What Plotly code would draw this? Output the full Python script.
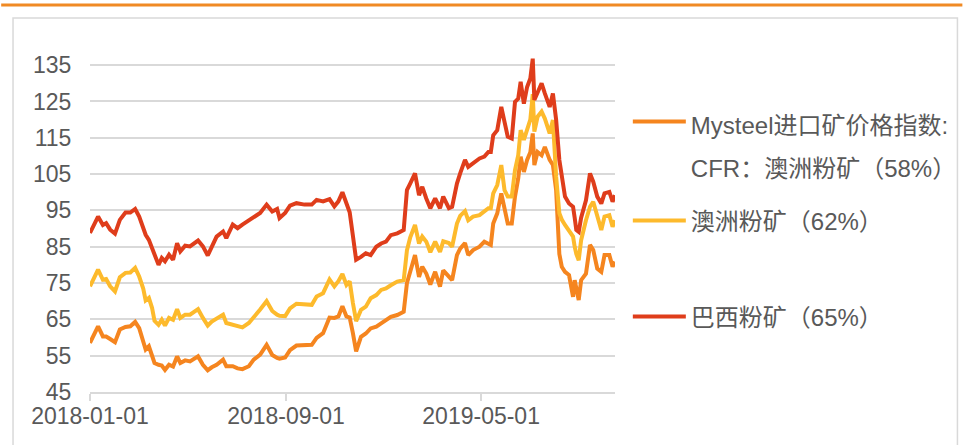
import plotly.graph_objects as go
import pandas as pd

# ---- data ----
start_date = "2018-01-01"
day_offsets = [0, 10, 16, 20, 25, 31, 37, 44, 50, 56, 61, 66, 69, 73, 77, 80, 85, 89, 93, 98,
               103, 108, 112, 118, 124, 134, 140, 146, 151, 157, 165, 169, 177, 183, 189, 197,
               203, 211, 219, 226, 232, 235, 242, 248, 256, 266, 275, 281, 289, 297, 303, 308,
               313, 318, 322, 326, 330, 336, 342, 348, 355, 361, 367, 373, 381, 389, 393, 397,
               403, 408, 412, 417, 422, 428, 434, 438, 445, 449, 455, 459, 465, 469, 475, 483,
               489, 494, 497, 500, 505, 510, 514, 518, 523, 527, 531, 534, 538, 542, 546, 549,
               551, 555, 560, 564, 570, 574, 578, 582, 585, 589, 594, 599, 601, 603, 606, 609,
               615, 620, 624, 629, 634, 638, 644, 648, 651]

mysteel_58 = [58.5, 63.1, 60.3, 60.3, 59.6, 58.7, 62.2, 62.9, 63.1, 64.3, 62.6, 59.4, 56.7, 57.6,
              54.8, 53.0, 52.5, 52.3, 51.1, 52.5, 52.0, 54.8, 53.0, 53.7, 53.4, 54.8, 52.5, 51.0,
              51.8, 52.5, 53.9, 52.1, 52.1, 51.5, 51.3, 52.1, 53.9, 55.3, 58.0, 55.2, 54.4, 54.2,
              54.5, 56.5, 57.8, 58.0, 58.0, 59.9, 61.2, 65.5, 65.4, 65.8, 68.6, 65.8, 65.5, 61.2,
              56.2, 60.2, 61.1, 62.5, 63.0, 63.9, 64.8, 65.7, 66.2, 67.1, 75.0, 78.5, 82.7, 76.7,
              79.5, 77.6, 74.6, 78.1, 74.0, 78.5, 76.5, 75.8, 82.7, 84.5, 86.0, 82.7, 84.1, 85.0,
              86.4, 86.0, 85.5, 91.4, 94.2, 99.7, 95.1, 91.4, 91.4, 98.8, 103.8, 109.8, 105.6,
              108.9, 111.0, 116.2, 107.5, 111.1, 110.2, 112.5, 108.9, 107.5, 100.6, 83.0, 79.5,
              78.1, 77.2, 71.2, 75.8, 73.0, 70.3, 75.8, 77.6, 85.5, 84.1, 79.0, 78.1, 82.7, 82.7,
              79.5, 80.9]

aus_62 = [74.1, 78.7, 75.9, 76.1, 74.1, 72.7, 76.6, 77.8, 77.9, 79.2, 76.8, 73.5, 70.2, 70.9,
          68.1, 64.6, 63.5, 64.9, 63.3, 65.4, 64.9, 67.8, 65.4, 66.3, 66.3, 67.8, 65.4, 63.3,
          64.4, 65.2, 66.3, 64.0, 63.5, 63.2, 62.8, 64.0, 65.5, 67.7, 70.0, 67.3, 66.3, 66.0,
          65.9, 68.0, 69.3, 69.2, 69.0, 71.3, 72.2, 76.0, 74.1, 75.5, 77.5, 74.5, 75.5, 69.5,
          64.5, 67.6, 68.5, 70.8, 71.7, 73.1, 73.5, 74.4, 75.4, 75.8, 84.0, 87.5, 91.0, 85.9,
          87.8, 86.4, 83.5, 86.4, 83.6, 86.5, 86.0, 85.0, 91.4, 93.5, 94.8, 92.3, 93.3, 93.7,
          94.6, 95.6, 95.6, 99.7, 102.0, 107.5, 100.6, 98.8, 98.8, 106.1, 110.2, 117.1, 114.4,
          117.1, 120.0, 127.0, 116.7, 120.8, 122.2, 120.3, 116.2, 119.9, 104.3, 94.2, 92.5,
          91.0, 89.6, 87.8, 85.0, 83.0, 81.3, 86.8, 92.3, 96.0, 97.4, 93.3, 89.6, 93.3, 93.7,
          90.5, 92.3]

brazil_65 = [88.8, 93.3, 91.0, 91.5, 89.7, 88.6, 92.4, 94.4, 94.4, 95.4, 93.3, 90.6, 88.3, 86.9,
             84.6, 82.3, 80.0, 81.9, 81.0, 82.8, 81.4, 86.0, 83.7, 85.3, 85.1, 86.7, 85.1, 82.6,
             85.1, 87.8, 89.2, 87.4, 91.1, 90.1, 91.1, 92.2, 93.3, 94.3, 96.6, 94.7, 95.4, 92.9,
             94.3, 96.3, 97.0, 96.6, 96.6, 97.9, 97.5, 98.1, 96.1, 97.5, 100.0, 97.0, 94.5, 88.0,
             81.4, 82.2, 83.2, 82.7, 85.0, 85.9, 86.4, 88.2, 88.7, 89.6, 100.6, 102.4, 105.2,
             99.2, 101.5, 98.3, 95.6, 98.3, 95.6, 98.8, 95.6, 96.0, 102.4, 105.2, 108.9, 107.0,
             107.9, 109.3, 109.8, 111.1, 111.1, 115.7, 117.1, 123.5, 119.4, 115.3, 114.8, 124.9,
             125.8, 130.4, 124.4, 129.0, 131.3, 136.8, 125.4, 127.2, 130.0, 127.2, 123.5, 127.2,
             120.0, 108.9, 104.3, 98.8, 96.9, 96.0, 93.0, 89.6, 89.1, 93.0, 97.8, 105.2, 102.9,
             98.8, 96.9, 99.7, 100.1, 97.4, 99.2]

series_names = [
    '<span style="font-size:24px">Mysteel进口矿价格指数:</span><br>'
    '<span style="font-size:24px">CFR：澳洲粉矿（58%）</span>',
    "澳洲粉矿（62%）",
    "巴西粉矿（65%）",
]
x_tick_labels = ["2018-01-01", "2018-09-01", "2019-05-01"]
y_tick_values = [45, 55, 65, 75, 85, 95, 105, 115, 125, 135]
x_end = "2019-10-14"

dates = (pd.Timestamp(start_date) + pd.to_timedelta(day_offsets, unit="D")).strftime("%Y-%m-%d").tolist()

# ---- styling ----
colors = ["#F5851F", "#FDBA2C", "#DF3D1B"]
text_color = "#595959"
grid_color = "#D9D9D9"
font_family = "Liberation Sans, Arial, Noto Sans CJK SC, sans-serif"

W, H = 974, 445
L, R, T, B = 90, 352, 47, 53
plot_w, plot_h = W - L - R, H - T - B


def px_x(px):
    return (px - L) / plot_w


def px_y(py):
    return (H - B - py) / plot_h


fig = go.Figure()
legend_ids = ["legend", "legend2", "legend3"]
for name, vals, col, lid in zip(series_names, [mysteel_58, aus_62, brazil_65], colors, legend_ids):
    fig.add_trace(go.Scatter(x=dates, y=vals, mode="lines", name=name,
                             line=dict(color=col, width=4), legend=lid,
                             hoverinfo="x+y"))

legend_common = dict(bgcolor="rgba(0,0,0,0)", borderwidth=0, xanchor="left", yanchor="middle",
                     itemwidth=53, valign="top", x=px_x(635))
fig.update_layout(
    width=W, height=H,
    margin=dict(l=L, r=R, t=T, b=B, pad=0),
    paper_bgcolor="white", plot_bgcolor="white",
    font=dict(family=font_family, color=text_color, size=23),
    showlegend=True,
    legend=dict(**legend_common, y=px_y(143), font=dict(size=33, color=text_color, family=font_family)),
    legend2=dict(**legend_common, y=px_y(221), font=dict(size=24, color=text_color, family=font_family)),
    legend3=dict(**legend_common, y=px_y(317), font=dict(size=24, color=text_color, family=font_family)),
    xaxis=dict(
        type="date", range=[start_date, x_end],
        tickvals=x_tick_labels, ticktext=x_tick_labels,
        showgrid=False, zeroline=False,
        showline=True, linecolor=grid_color, linewidth=2,
        ticks="outside", ticklen=7, tickwidth=1.5, tickcolor=grid_color,
        ticklabelstandoff=-5,
        tickfont=dict(size=23, color=text_color, family=font_family),
    ),
    yaxis=dict(
        range=[45, 140], tickvals=y_tick_values,
        showgrid=True, gridcolor=grid_color, gridwidth=2,
        zeroline=False, showline=False,
        ticks="outside", ticklen=13, tickcolor="rgba(0,0,0,0)",
        tickfont=dict(size=23, color=text_color, family=font_family),
    ),
    shapes=[
        dict(type="line", xref="paper", yref="paper", x0=px_x(0), x1=px_x(W), y0=px_y(5), y1=px_y(5),
             line=dict(color="#F08A24", width=3), layer="above"),
        dict(type="rect", xref="paper", yref="paper", x0=px_x(12), x1=px_x(969), y0=px_y(18), y1=px_y(460),
             line=dict(color=grid_color, width=1.5), fillcolor="rgba(0,0,0,0)", layer="below"),
    ],
)

fig.write_html("out.html", config={"displayModeBar": False},
               post_script="document.body.style.margin='0px';")
